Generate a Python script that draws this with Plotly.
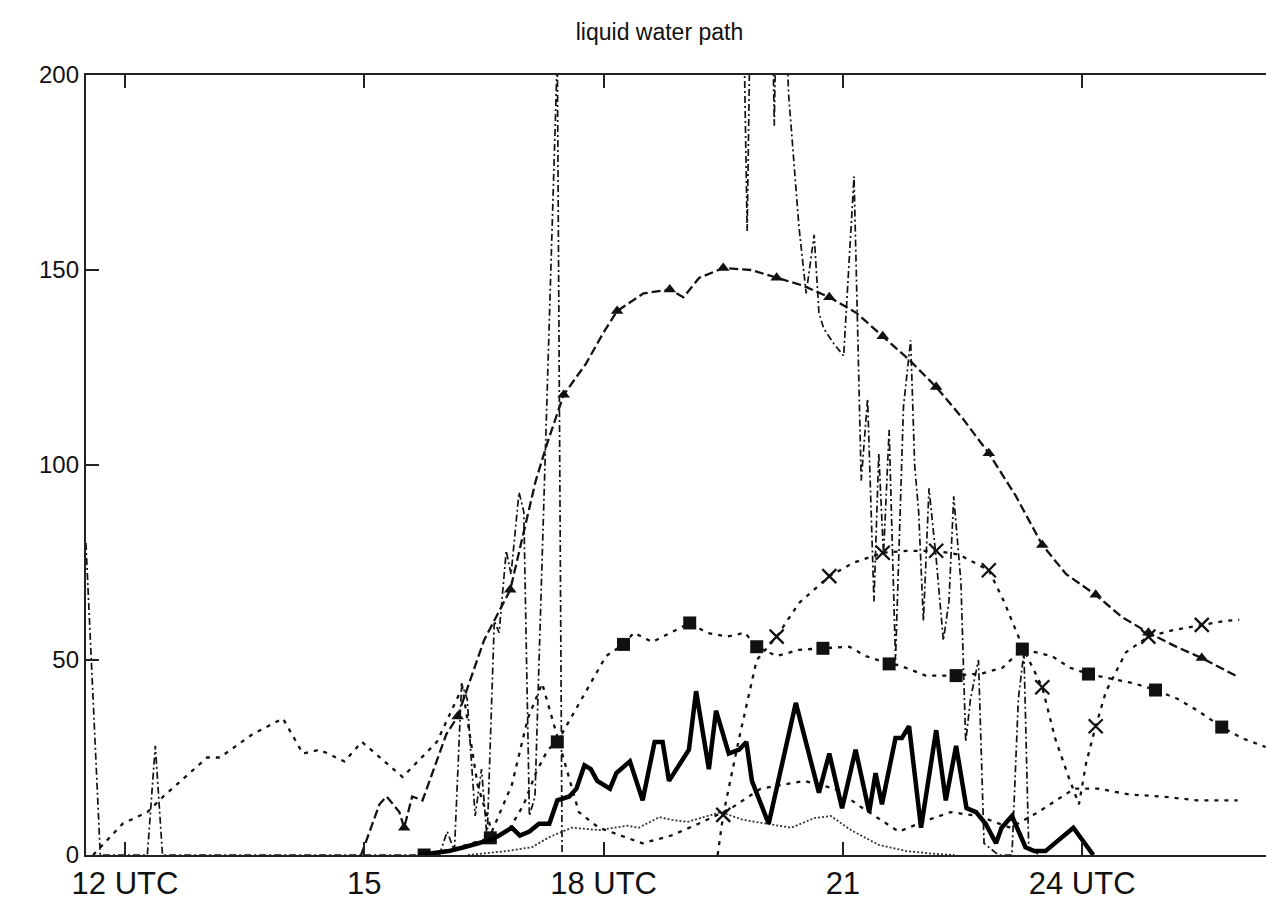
import plotly.graph_objects as go

# ---------------- data (hours UTC, liquid water path) ----------------
# thick solid run
run_a_t = [15.69, 15.9, 16.06, 16.25, 16.44, 16.6, 16.69, 16.85, 16.95, 17.07, 17.19, 17.32,
           17.42, 17.57, 17.66, 17.76, 17.84, 17.92, 18.08, 18.16, 18.33, 18.49, 18.64, 18.74,
           18.82, 19.07, 19.16, 19.32, 19.41, 19.57, 19.70, 19.79, 19.86, 20.07, 20.41, 20.70,
           20.83, 20.99, 21.16, 21.33, 21.41, 21.49, 21.66, 21.74, 21.83, 21.98, 22.17, 22.29,
           22.42, 22.55, 22.67, 22.79, 22.92, 22.99, 23.12, 23.29, 23.40, 23.54, 23.89, 24.14]
run_a_v = [0, 0.5, 1, 2, 3, 4, 5, 7, 5, 6, 8, 8,
           14, 15, 17, 23, 22, 19, 17, 21, 24, 14, 29, 29,
           19, 27, 42, 22, 37, 26, 27, 29, 19, 8, 39, 16,
           26, 12, 27, 11, 21, 13, 30, 30, 33, 7, 32, 14,
           28, 12, 11, 8, 3, 7, 10, 2, 1, 1, 7, 0]

# dashed run with triangles
tri_t = [15.5, 16.17, 16.83, 17.5, 18.17, 18.83, 19.5, 20.17, 20.83, 21.5, 22.17, 22.83,
         23.5, 24.17, 24.83, 25.5]
tri_v = [7, 35.5, 68, 118, 139.5, 145, 150.5, 148, 143, 133, 120, 103,
         79.5, 66.7, 57, 50.5]
tri_line_t = [14.96, 15.19, 15.28, 15.44, 15.6, 15.73, 16.03, 16.5, 17.15, 17.3, 17.78, 18.0,
              18.5, 19.0, 19.2, 19.85, 20.5, 21.17, 21.83, 22.5, 23.17, 23.8, 24.5, 25.17, 25.96]
tri_line_v = [0, 13, 15, 11, 15, 14, 31, 55, 96, 106, 126, 134,
              144, 143, 148, 150, 146, 139, 127, 112, 92, 72, 61, 53.5, 45.6]

# dotted run with squares
sq_t = [15.75, 16.58, 17.42, 18.25, 19.08, 19.92, 20.75, 21.58, 22.42, 23.25, 24.08, 24.92, 25.75]
sq_v = [0, 4.4, 29, 54, 59.5, 53.4, 53, 49, 46, 52.8, 46.4, 42.3, 32.8]
sq_line_t = [16.1, 16.35, 16.8, 17.0, 17.15, 17.3, 17.73, 18.03, 18.38, 18.61, 18.85, 19.29,
             19.55, 19.77, 20.17, 20.45, 21.08, 21.29, 21.7, 22.04, 22.75, 23.0, 23.62, 23.85,
             24.42, 24.65, 25.2, 25.45, 26.0, 26.3]
sq_line_v = [1.5, 3, 6, 13, 21, 27, 40, 51, 57, 54.6, 57, 57,
             56, 57, 51, 52.6, 53.4, 51, 48.7, 46, 46.6, 48, 51, 48,
             45, 44, 40, 37, 30, 27.7]

# dotted run with crosses
x_t = [11.5, 19.5, 20.17, 20.83, 21.5, 22.17, 22.83, 23.5, 24.17, 24.83, 25.5]
x_v = [0, 10.3, 56, 71.5, 77.5, 78, 73, 43, 33, 56, 59]
x_line_t = [19.43, 19.7, 19.92, 20.45, 21.14, 21.8, 22.46, 23.02, 23.27, 23.66, 23.83, 23.96,
            24.05, 24.3, 24.55, 25.15, 25.78, 25.97]
x_line_v = [0, 30, 50, 64.6, 75, 78, 77, 65, 52.6, 30, 20, 13,
            23.6, 42, 52, 57.7, 60, 60.3]

# short-dashed run
run_b_t = [11.6, 11.97, 12.28, 12.48, 13.03, 13.19, 13.6, 13.98, 14.23, 14.44, 14.75, 14.97,
           15.48, 15.91, 16.23, 16.42, 16.6, 16.85, 17.05, 17.23, 17.69, 17.94, 18.49, 18.85,
           19.19, 19.6, 19.97, 20.52, 20.9, 21.25, 21.7, 22.07, 22.35, 22.7, 23.1, 23.45,
           23.9, 24.2, 24.6, 25.0, 25.45, 25.95]
run_b_v = [0, 8, 11, 15, 25, 25, 31, 35, 26, 27, 24, 29,
           20, 29, 43, 18, 6, 18, 35, 44, 11, 7, 3, 5,
           8, 12, 17, 19, 17, 12, 6, 9, 11, 10, 7, 11,
           17, 17, 15.5, 15, 14, 14]

# fine dotted run
run_c_t = [16.3, 16.78, 17.1, 17.32, 17.6, 17.94, 18.3, 18.44, 18.7, 18.86, 19.05, 19.3,
           19.47, 19.75, 20.05, 20.35, 20.65, 20.85, 21.1, 21.45, 21.8, 22.15, 22.4]
run_c_v = [0, 1, 2, 4.6, 7, 6.4, 7.5, 7, 9.7, 9, 8.5, 10,
           11, 9, 8, 7, 9.5, 10, 6.4, 2.6, 1, 0.3, 0]

# dash-dot run (None = no data)
run_d_t = [11.51, 11.69, 12.28, 12.38, 12.47, 15.94, 16.04, 16.13, 16.22, 16.29, 16.39, 16.47,
           16.54, 16.63, 16.69, 16.78, 16.84, 16.94, 17.0, 17.07, 17.14, 17.42, 17.48, 17.6,
           19.72, 19.8, 19.87, 20.08, 20.14, 20.2, 20.32, 20.45, 20.54, 20.64, 20.7, 20.76,
           20.89, 21.01, 21.14, 21.23, 21.31, 21.39, 21.45, 21.51, 21.58, 21.66, 21.76, 21.85,
           21.9, 21.95, 22.01, 22.08, 22.17, 22.26, 22.33, 22.39, 22.48, 22.54, 22.6, 22.7,
           22.77, 22.95, 23.12, 23.2, 23.27, 23.33, 23.46]
run_d_v = [80, 0, 0, 28, 0, 0, 6, 1, 44, 40, 10, 22,
           4, 60, 57, 78, 72, 93, 88, 10, 15, 205, 0, None,
           260, 160, 260, 260, 187, 260, 195, 161, 144, 159, 139, 135,
           131, 128, 174, 96, 117, 65, 103, 77, 109, 50, 115, 132,
           100, 88, 60, 94, 76, 55, 65, 92, 70, 29, 40, 50,
           3, 0, 0, 40, 52, 2, 0]

x_tick_vals = [12, 15, 18, 21, 24]
x_tick_text = ["12 UTC", "15", "18 UTC", "21", "24 UTC"]
y_tick_vals = [0, 50, 100, 150, 200]


def merged(t_a, v_a, t_b, v_b):
    pts = sorted(zip(t_a + t_b, v_a + v_b), key=lambda p: p[0])
    return [p[0] for p in pts], [p[1] for p in pts]


INK = "#111111"
FONT = "Liberation Sans, Arial, sans-serif"

fig = go.Figure()

# dash-dot noisy run
fig.add_trace(go.Scatter(x=run_d_t, y=run_d_v, mode="lines", connectgaps=False,
                         line=dict(color=INK, width=1.7, dash="7px,3px,2px,3px")))
# fine dotted run
fig.add_trace(go.Scatter(x=run_c_t, y=run_c_v, mode="lines",
                         line=dict(color="#333333", width=1.8, dash="2px,2px")))
# short-dashed run
fig.add_trace(go.Scatter(x=run_b_t, y=run_b_v, mode="lines",
                         line=dict(color=INK, width=2.3, dash="4px,6px")))

# triangles
tt, tv = merged(tri_t, tri_v, tri_line_t, tri_line_v)
fig.add_trace(go.Scatter(x=tt, y=tv, mode="lines",
                         line=dict(color=INK, width=2.3, dash="9px,4px")))
fig.add_trace(go.Scatter(x=tri_t, y=tri_v, mode="markers",
                         marker=dict(symbol="triangle-up", size=11, color=INK)))

# squares
st, sv = merged(sq_t, sq_v, sq_line_t, sq_line_v)
fig.add_trace(go.Scatter(x=st, y=sv, mode="lines",
                         line=dict(color=INK, width=2.3, dash="4px,6px")))
fig.add_trace(go.Scatter(x=sq_t, y=sq_v, mode="markers",
                         marker=dict(symbol="square", size=13, color=INK)))

# crosses (first point stands alone)
xt, xv = merged(x_t[1:], x_v[1:], x_line_t, x_line_v)
fig.add_trace(go.Scatter(x=xt, y=xv, mode="lines",
                         line=dict(color=INK, width=2.3, dash="4px,6px")))
fig.add_trace(go.Scatter(x=x_t, y=x_v, mode="markers", cliponaxis=False,
                         marker=dict(symbol="x-thin", size=14,
                                     line=dict(color=INK, width=2.3))))

# thick solid run
fig.add_trace(go.Scatter(x=run_a_t, y=run_a_v, mode="lines",
                         line=dict(color="#000000", width=4.5)))

fig.update_layout(
    width=1266, height=903,
    margin=dict(l=86, r=0, t=75, b=48),
    paper_bgcolor="white", plot_bgcolor="white",
    showlegend=False,
    title=dict(text="liquid water path", x=0.486, xref="paper", y=0.965, yref="container",
               xanchor="center", yanchor="middle",
               font=dict(family=FONT, size=23, color=INK)),
    font=dict(family=FONT, size=22, color=INK),
    xaxis=dict(range=[11.511, 26.305], tickvals=x_tick_vals, ticktext=x_tick_text,
               showgrid=False, zeroline=False, showline=True, linecolor="#222222",
               linewidth=2.4, mirror="ticks", ticks="inside", ticklen=13, tickwidth=1.6,
               tickcolor="#222222", tickfont=dict(family=FONT, size=31, color=INK)),
    yaxis=dict(range=[0, 200], tickvals=y_tick_vals, showgrid=False, zeroline=False,
               showline=True, linecolor="#222222", linewidth=2.4, ticks="inside",
               ticklen=13, tickwidth=1.6, tickcolor="#222222",
               tickfont=dict(family=FONT, size=24, color=INK)),
    yaxis2=dict(range=[0, 200], overlaying="y", side="right", tickvals=y_tick_vals,
                showticklabels=False, showgrid=False, zeroline=False, showline=False,
                ticks="inside", ticklen=8, tickwidth=1.2, tickcolor="#777777"),
)

fig.write_html("out.html")
